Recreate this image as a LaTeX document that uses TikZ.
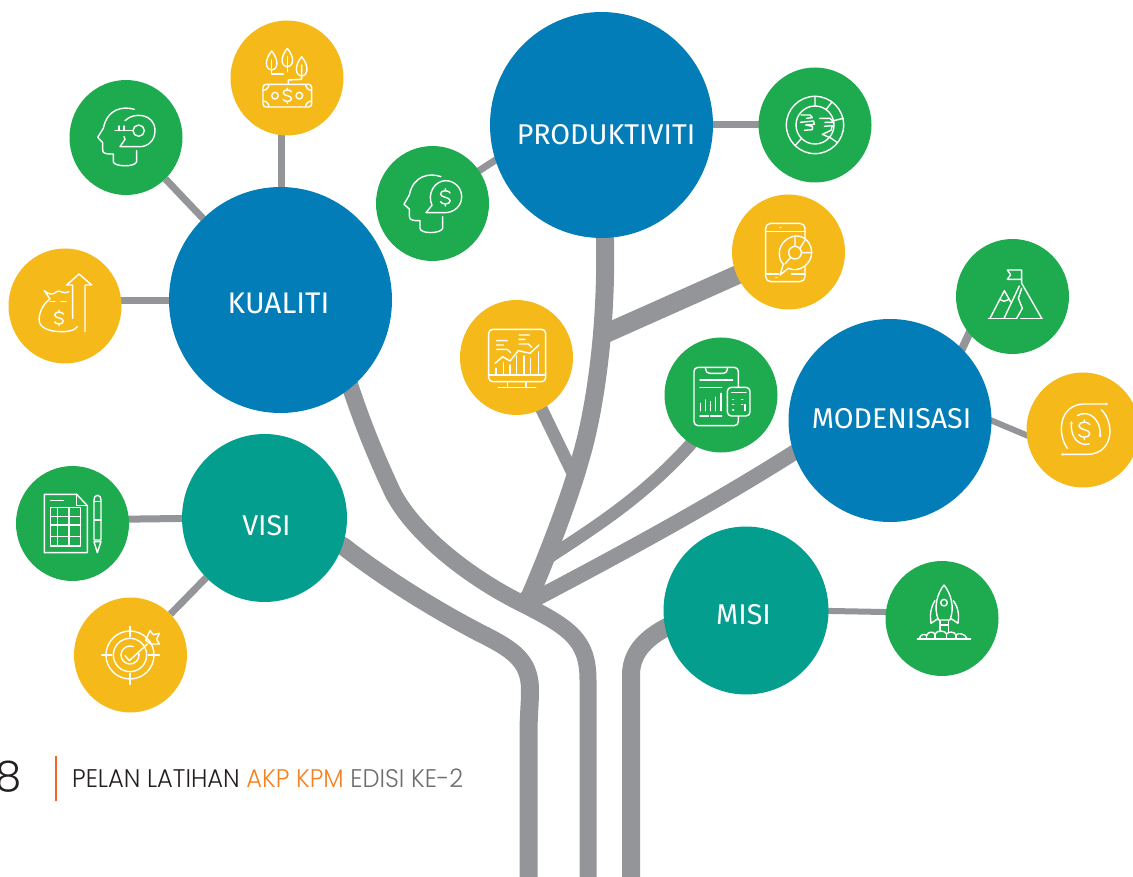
\documentclass[tikz,border=0pt]{standalone}
\usepackage{fontspec}
\usetikzlibrary{shapes.geometric,backgrounds,arrows.meta}
\setmainfont{Fira Sans}
\newfontfamily\footfont{Poppins Light}
\definecolor{cblue}{HTML}{027DB8}
\definecolor{cteal}{HTML}{049E8F}
\definecolor{cgreen}{HTML}{1EAA4E}
\definecolor{cyellow}{HTML}{F5BA1A}
\definecolor{cgray}{HTML}{939598}
\definecolor{corange}{HTML}{F58220}
\definecolor{cbar}{HTML}{F26522}
\definecolor{cdark}{HTML}{231F20}
\definecolor{cmid}{HTML}{6D6E71}
\tikzset{
  blob/.style={ellipse,inner sep=0pt,outer sep=0pt,draw=none,text=white,font=\fontsize{28.6}{28.6}\selectfont},
  bigblue/.style={blob,fill=cblue,minimum width=223pt,minimum height=226pt},
  midblue/.style={blob,fill=cblue,minimum width=203pt,minimum height=203pt},
  tealblob/.style={blob,fill=cteal,minimum width=165pt,minimum height=168pt},
  gsmall/.style={blob,fill=cgreen,minimum width=113pt,minimum height=115pt},
  ysmall/.style={blob,fill=cyellow,minimum width=113pt,minimum height=115pt},
  twig/.style={draw=cgray,line width=7pt},
  limb/.style={draw=cgray,line width=18pt,line join=round},
  icon/.style={color=white,line width=1.4pt,line cap=round,line join=round},
  zoomed/.style={x=0.33333pt,y=-0.33333pt},
  tinyhead/.style={-{Stealth[length=3pt,width=3pt]}},
}
\newcommand\lbl[3]{\smash{\raisebox{#1}{\makebox[0pt][c]{\kern#2\relax #3}}}}
\newcommand\dollarat[3]{\draw[shift={(#1,#2)},scale=#3] (10,-9) .. controls (8,-15) and (-10,-16) .. (-10,-7) .. controls (-10,1) and (10,-1) .. (10,7) .. controls (10,16) and (-8,15) .. (-10,9) (0,-18)--(0,-14) (0,14)--(0,18);}
\begin{document}
\begin{tikzpicture}[x=1pt,y=-1pt]
\useasboundingbox (0,0) rectangle (1133,877);
\clip (0,0) rectangle (1133,877);
% main nodes
\node[bigblue] (kual) at (280.5,300) {\lbl{-14pt}{-4pt}{\fontsize{29.8}{29.8}\selectfont KUALITI}};
\node[bigblue] (prod) at (601.5,125) {\lbl{-20pt}{9pt}{PRODUKTIVITI}};
\node[midblue] (mode) at (890,420.5) {\lbl{-8.5pt}{3pt}{MODENISASI}};
\node[tealblob] (visi) at (264.5,518) {\lbl{-17pt}{4pt}{VISI}};
\node[tealblob] (misi) at (746,610.5) {\lbl{-13.5pt}{-5pt}{MISI}};
\node[gsmall] (key) at (126,137.5) {};
\node[ysmall] (plant) at (287,78) {};
\node[ysmall] (bag) at (65,306) {};
\node[gsmall] (heads) at (432.5,203.5) {};
\node[gsmall] (globe) at (815,125) {};
\node[ysmall] (phone) at (788.5,252) {};
\node[ysmall] (chart) at (516.5,357.5) {};
\node[gsmall] (clip) at (721,395) {};
\node[gsmall] (flag) at (1012.5,296.5) {};
\node[ysmall] (cycle) at (1083,430) {};
\node[gsmall] (doc) at (72.5,523.5) {};
\node[ysmall] (target) at (130.5,655) {};
\node[gsmall] (rocket) at (942,618.5) {};
% free ends
\coordinate (footA) at (528.5,880);
\coordinate (footB) at (588,880);
\coordinate (footC) at (631,880);
\coordinate (jct) at (522,606);
\coordinate (jchart) at (577,482);
\coordinate (jphone) at (600,336);
\coordinate (jclip) at (548,558);
\coordinate (aimplanta) at (281,100);
\coordinate (aimplantb) at (281,250);
\coordinate (aimbaga) at (90,300.5);
\coordinate (aimbagb) at (220,300.5);
\coordinate (aimheada) at (457,185);
\coordinate (aimheadb) at (528,139);
\coordinate (aimflaga) at (985,300);
\coordinate (aimflagb) at (945,385);
\coordinate (aimcyca) at (970,411.5);
\coordinate (aimcycb) at (1045,443);
\coordinate (aimmisa) at (780,610);
\coordinate (aimmisb) at (910,612.5);
\coordinate (aimdoca) at (100,519.5);
\coordinate (aimdocb) at (220,518);
\begin{pgfonlayer}{background}
\draw[twig] (aimplanta) -- (aimplantb);
\draw[twig] (kual) -- (key);
\draw[twig] (aimbaga) -- (aimbagb);
\draw[twig] (aimheada) -- (aimheadb);
\draw[twig] (prod) -- (globe);
\draw[twig,line width=8pt] (aimflaga) -- (aimflagb);
\draw[twig,line width=6pt] (aimcyca) -- (aimcycb);
\draw[twig] (aimdoca) -- (aimdocb);
\draw[twig] (visi) -- (target);
\draw[twig,line width=6pt] (aimmisa) -- (aimmisb);
% limbs
\draw[limb,line width=17pt] (kual.center) -- (345,370) .. controls (362,425) and (380,465) .. (393,493) .. controls (415,535) and (470,578) .. (523,604) .. controls (570,628) and (588,640) .. (588,680) -- (footB);
\draw[limb] (visi.center) -- (343,546) .. controls (380,575) and (430,607) .. (480,633) .. controls (512,649) and (530,660) .. (530,690) .. controls (530,705) and (528.5,715) .. (528.5,735) -- (footA);
\draw[limb] (misi.center) -- (667,627) .. controls (650,636) and (631,650) .. (631,675) -- (footC);
\draw[limb] (prod.center) -- (605,240) .. controls (607,340) and (592,420) .. (581,457) .. controls (572,490) and (552,545) .. (530,596) -- (jct);
\draw[limb,line width=12.5pt] (chart.center) -- (jchart);
\draw[limb,line width=19pt] (phone.center) -- (jphone);
\draw[limb,line width=12.5pt] (jclip) .. controls (590,530) and (640,500) .. (690,445) -- (clip.center);
\draw[limb,line width=15.5pt] (jct) .. controls (600,565) and (700,512) .. (795,452) -- (mode.center);
\end{pgfonlayer}
% ---- icons from zoom 1
\begin{scope}[shift={(0,0)},zoomed,icon]
 % key head
 \draw (403,328) .. controls (370,318) and (322,325) .. (310,385) -- (293,412) -- (308,428) -- (308,450) .. controls (308,462) and (320,462) .. (340,462) -- (340,485) .. controls (340,500) and (405,503) .. (410,485) -- (410,452);
 \draw (375,362) .. controls (400,335) and (465,340) .. (465,392) .. controls (465,425) and (440,440) .. (420,440) -- (360,440) -- (375,418) (372,410)--(375,418);
 \draw (416,392) circle (17);
 \draw (398,392) -- (345,392) (357,378) -- (357,392) (372,378) -- (372,392);
 % plant money
 \draw (815,153) .. controls (793,180) and (795,208) .. (815,210) .. controls (835,208) and (837,180) .. (815,153);
 \draw (862,145) .. controls (840,172) and (842,198) .. (862,200) .. controls (882,198) and (884,172) .. (862,145);
 \draw (905,170) .. controls (883,197) and (885,226) .. (905,228) .. controls (925,226) and (927,197) .. (905,170);
 \draw (815,180) -- (815,222) -- (850,222) (862,170) -- (862,215);
 \draw (905,195) -- (905,238) -- (865,240) -- (865,253);
 \draw[rounded corners=3] (789,253) rectangle (935,321);
 \draw (789,271) .. controls (799,271) and (807,263) .. (807,253) (935,271) .. controls (925,271) and (917,263) .. (917,253) (789,303) .. controls (799,303) and (807,311) .. (807,321) (935,303) .. controls (925,303) and (917,311) .. (917,321);
 \draw (825,287) circle (10) (898,287) circle (10);
 \dollarat{862}{287}{1.25}
 % money bag
 \draw (133,872) .. controls (145,885) and (160,885) .. (170,875) .. controls (180,868) and (190,885) .. (207,875);
 \draw (133,872) -- (150,897) .. controls (125,915) and (115,945) .. (118,965) .. controls (122,985) and (150,995) .. (185,995) .. controls (210,995) and (225,990) .. (232,980);
 \draw[dash pattern=on 5 off 6] (150,905) -- (210,905);
 \dollarat{177}{954}{1.3}
 \draw (218,955) -- (218,855) -- (200,855) -- (237,822) -- (275,855) -- (255,855) -- (255,995);
\end{scope}
% ---- icons from zoom 2
\begin{scope}[shift={(370,60)},zoomed,icon]
 % head dollar
 \draw (213,350) .. controls (180,338) and (130,345) .. (118,405) -- (102,433) -- (118,447) -- (118,468) .. controls (118,482) and (130,482) .. (150,482) -- (150,505) .. controls (150,522) and (212,522) .. (218,505) -- (218,470);
 \draw (168,458) -- (186,436) .. controls (170,400) and (195,362) .. (227,362) .. controls (255,362) and (275,385) .. (275,410) .. controls (275,440) and (250,458) .. (225,458) -- cycle;
 \dollarat{226}{412}{1.45}
 % phone
 \draw[rounded corners=5] (1187,490) rectangle (1305,665);
 \draw (1187,515) -- (1305,515) (1187,642) -- (1225,642) (1265,642) -- (1305,642);
 \draw[dash pattern=on 1 off 13] (1230,502) -- (1262,502);
 \draw[dash pattern=on 1 off 26] (1218,653) -- (1275,653);
 \fill[cyellow] (1275,578) circle (50) (1230,645) -- (1245,620) -- (1262,630) -- cycle;
 \draw (1280,528) .. controls (1255,528) and (1228,550) .. (1228,580) .. controls (1228,595) and (1232,605) .. (1240,612) -- (1230,645) -- (1255,625) .. controls (1290,640) and (1325,610) .. (1325,578) .. controls (1325,550) and (1305,528) .. (1280,528);
 \draw (1275,578) circle (19);
 \draw (1275,528)--(1275,558) (1305,540)--(1290,565) (1325,578)--(1295,578) (1262,592)--(1245,612);
 % monitor
 \draw[rounded corners=4] (356,808) rectangle (527,965);
 \draw (356,945) -- (527,945) (412,965) -- (412,983) (468,965) -- (468,983) (385,983) -- (497,983);
 \draw (378,945) -- (378,925) (400,945) -- (400,908) (420,945) -- (420,915) (440,945) -- (440,888) (462,945) -- (462,888) (482,945) -- (482,895) (505,945) -- (505,875);
 \draw (375,910) -- (398,890) -- (420,903) -- (445,872) -- (480,880) -- (507,855);
 \draw (380,842) -- (412,842) (380,855) -- (400,855) (380,868) -- (412,868) -- (422,878);
 \draw (447,825) -- (478,825) (447,838) -- (465,838) (447,852) -- (475,852) -- (485,862);
 % clipboard
 \draw[rounded corners=4] (972,922) rectangle (1105,1097);
 \draw[rounded corners=4] (1007,924) -- (1007,940) -- (1072,940) -- (1072,924);
 \draw (990,960) -- (1088,960) (990,982) -- (1055,982);
 \draw (992,1052) -- (992,1030) (1007,1052) -- (1007,1020) (1022,1052) -- (1022,1025) (1037,1052) -- (1037,1012) (1053,1052) -- (1053,1000);
 \draw (990,1068) -- (1015,1068) (1022,1068) -- (1055,1068);
 \draw[fill=cgreen,rounded corners=4] (1072,982) rectangle (1140,1068);
 \draw (1085,998) -- (1128,998);
 \draw[dash pattern=on 1 off 8] (1088,1018) -- (1125,1018) (1088,1034) -- (1125,1034) (1088,1050) -- (1112,1050);
 \draw (1125,1034) -- (1125,1052);
\end{scope}
% globe
\begin{scope}[shift={(775,85)},zoomed,icon]
 \draw (120,120) circle (86) (120,120) circle (57);
 \draw (120,34) -- (120,63) (170,52) -- (153,74) (205,100) -- (176,107) (186,172) -- (163,156) (60,182) -- (80,160);
 \draw (78,90) -- (106,90) -- (112,98) -- (94,100) (76,112) -- (116,108) -- (118,118) -- (92,120) -- (112,124) -- (112,134) -- (88,136);
 \draw (134,100) -- (165,100) -- (176,112) -- (150,112) (148,124) -- (172,122) -- (168,136) -- (142,148) -- (160,156);
\end{scope}
% cycle
\begin{scope}[shift={(1050,395)},zoomed,icon]
 \draw[tinyhead] (52,160) .. controls (20,115) and (28,30) .. (100,27) -- (175,27);
 \draw[tinyhead] (155,45) .. controls (195,85) and (190,175) .. (115,178) -- (32,178);
 \draw[tinyhead] (118,147) .. controls (85,155) and (60,125) .. (65,78);
 \draw[tinyhead] (82,62) .. controls (120,40) and (155,80) .. (150,128);
 \dollarat{103}{104}{1.65}
\end{scope}
% ---- icons from zoom 3
\begin{scope}[shift={(880,230)},zoomed,icon]
 % flag
 \draw (425,160) -- (425,120) -- (382,120) -- (392,134) -- (382,148) -- (425,148);
 \draw (325,265) -- (410,265) (422,265) -- (487,265);
 \draw (372,265) -- (418,168) (425,160) -- (485,265);
 \draw (425,175) -- (415,205) -- (427,235) -- (410,265);
 \draw (330,265) -- (373,182) -- (392,216);
 \draw (358,208) -- (372,214) -- (388,208);
 % rocket
 \draw (192,1065) .. controls (172,1090) and (160,1130) .. (175,1170) -- (210,1170) .. controls (225,1130) and (212,1090) .. (192,1065);
 \draw (192,1118) circle (10);
 \draw (165,1112) .. controls (150,1135) and (150,1160) .. (153,1180) -- (175,1165);
 \draw (220,1112) .. controls (237,1135) and (237,1160) .. (234,1180) -- (212,1165);
 \draw (180,1172) -- (180,1205) (205,1172) -- (205,1205) (180,1185) -- (205,1185);
 \draw (112,1227) -- (272,1227);
 \draw (118,1227) .. controls (120,1212) and (135,1210) .. (140,1217) .. controls (142,1205) and (160,1203) .. (165,1212) .. controls (170,1200) and (195,1200) .. (200,1212) .. controls (205,1203) and (225,1205) .. (228,1215) .. controls (235,1207) and (255,1210) .. (262,1227);
 \draw (140,1217) -- (140,1227) (165,1212) -- (165,1227) (200,1212) -- (200,1227) (228,1215) -- (228,1227);
\end{scope}
% ---- icons from zoom 4
\begin{scope}[shift={(0,460)},zoomed,icon]
 % doc
 \draw (133,103) -- (230,103) -- (262,137) -- (262,278) -- (133,278) -- cycle;
 \draw (230,103) -- (230,137) -- (262,137);
 \draw (152,122) -- (190,122);
 \draw (152,143) rectangle (242,258);
 \draw (172,143) -- (172,258) (207,143) -- (207,258) (152,170) -- (242,170) (152,195) -- (242,195) (152,230) -- (242,230);
 \draw[fill=cgreen] (282,240) -- (282,122) .. controls (282,100) and (303,100) .. (303,122) -- (303,240) -- cycle;
 \draw (282,180) -- (303,180) (282,125) -- (303,125);
 \draw (282,245) -- (292,278) -- (303,245) -- cycle;
 % target
 \draw (390,585) circle (72) (390,585) circle (50);
 \draw (415,575) arc (-22:290:27);
 \draw (390,499) -- (390,530) (390,640) -- (390,673) (305,585) -- (335,585) (445,585) -- (478,585);
 \draw (375,587) -- (388,602) -- (442,552);
 \draw (437,540) -- (450,512) -- (460,524) -- (478,520) -- (470,538) -- (478,552) -- (452,552) -- cycle;
\end{scope}
% footer
\fill[cbar] (54.5,756) rectangle (57,801);
\node[anchor=base west,inner sep=0pt,text=cdark,font=\footfont\fontsize{42}{42}\selectfont] (pagenum) at (-5,791) {8};
\node[anchor=base west,inner sep=0pt,font=\footfont\fontsize{25.5}{25.5}\selectfont] (foot) at (72,787) {\scalebox{0.947}[1]{\textcolor{cdark}{PELAN LATIHAN} \textcolor{corange}{AKP KPM} \textcolor{cmid}{EDISI KE-2}}};
\end{tikzpicture}
\end{document}
